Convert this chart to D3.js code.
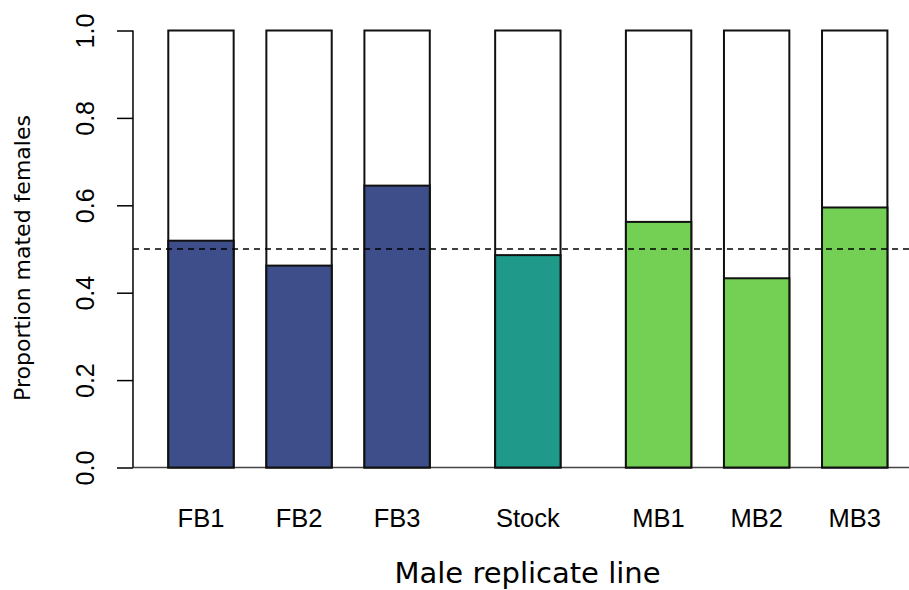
<!DOCTYPE html>
<html>
<head>
<meta charset="utf-8">
<script src="https://cdn.jsdelivr.net/npm/d3@7"></script>
<style>
  html, body { margin: 0; padding: 0; background: #fff; }
  svg { display: block; }
</style>
</head>
<body>
<svg id="chart" width="909" height="590"></svg>
<script>
// ---- data ----
const categories = ["FB1", "FB2", "FB3", "Stock", "MB1", "MB2", "MB3"];
const groups = ["FB", "FB", "FB", "Stock", "MB", "MB", "MB"];
const proportions = [0.519, 0.462, 0.645, 0.486, 0.562, 0.433, 0.595];
const yTicks = [0, 0.2, 0.4, 0.6, 0.8, 1.0];
const referenceLine = 0.5;
const groupColors = { FB: "#3D4E8A", Stock: "#1F9A8A", MB: "#73D055" };
const xTitle = "Male replicate line";
const yTitle = "Proportion mated females";

// ---- layout (bar units like R barplot: width 1, space 0.5, extra 1 between groups) ----
const starts = [];
let u = 0;
categories.forEach((c, i) => {
  const sp = (i > 0 && groups[i] !== groups[i - 1]) ? 1 : 0.5;
  u += sp;
  starts.push(u);
  u += 1;
});

const svg = d3.select("#chart");
const x = d3.scaleLinear().domain([0, 11.5]).range([135.6, 887.4]);
const y = d3.scaleLinear().domain([0, 1]).range([467.5, 30.5]);
const axisX = x(-0.04);

// baseline (h = 0)
svg.append("line")
  .attr("x1", axisX).attr("x2", 909)
  .attr("y1", y(0)).attr("y2", y(0))
  .attr("stroke", "#444").attr("stroke-width", 1.5);

// white background bars (full height)
svg.selectAll("rect.bg").data(categories).enter().append("rect")
  .attr("class", "bg")
  .attr("x", (d, i) => x(starts[i]))
  .attr("width", (d, i) => x(starts[i] + 1) - x(starts[i]))
  .attr("y", y(1))
  .attr("height", y(0) - y(1))
  .attr("fill", "#fff").attr("stroke", "#111").attr("stroke-width", 2);

// coloured proportion bars
svg.selectAll("rect.val").data(proportions).enter().append("rect")
  .attr("class", "val")
  .attr("x", (d, i) => x(starts[i]))
  .attr("width", (d, i) => x(starts[i] + 1) - x(starts[i]))
  .attr("y", d => y(d))
  .attr("height", d => y(0) - y(d))
  .attr("fill", (d, i) => groupColors[groups[i]])
  .attr("stroke", "#111").attr("stroke-width", 2);

// dashed reference line
svg.append("line")
  .attr("x1", axisX).attr("x2", 909)
  .attr("y1", y(referenceLine)).attr("y2", y(referenceLine))
  .attr("stroke", "#000").attr("stroke-width", 1.5)
  .attr("stroke-dasharray", "6,5");

// y axis
const yAxis = d3.axisLeft(y).tickValues(yTicks).tickSize(16).tickFormat(d3.format(".1f"));
const gy = svg.append("g").attr("transform", `translate(${axisX},0)`).call(yAxis);
gy.select(".domain").attr("d", `M-0,${y(0)}V${y(1)}`).attr("stroke", "#000").attr("stroke-width", 1.5);
gy.selectAll(".tick line").attr("stroke", "#000").attr("stroke-width", 1.5);
gy.selectAll(".tick text")
  .attr("x", null).attr("dy", null)
  .attr("transform", `translate(${94 - axisX},0) rotate(-90)`)
  .attr("text-anchor", "middle")
  .attr("font-family", "'Liberation Sans', Arial, sans-serif")
  .attr("font-size", 25).attr("fill", "#000");

// category labels
svg.selectAll("text.cat").data(categories).enter().append("text")
  .attr("class", "cat")
  .attr("x", (d, i) => x(starts[i] + 0.5))
  .attr("y", 527)
  .attr("text-anchor", "middle")
  .attr("font-family", "'Liberation Sans', Arial, sans-serif")
  .attr("font-size", 25.5).attr("fill", "#000")
  .text(d => d);

// axis titles
svg.append("text")
  .attr("x", 527.5).attr("y", 583)
  .attr("text-anchor", "middle")
  .attr("font-family", "'DejaVu Sans', Verdana, sans-serif")
  .attr("font-size", 29).attr("fill", "#000")
  .text(xTitle);

svg.append("text")
  .attr("transform", "translate(30,258) rotate(-90)")
  .attr("text-anchor", "middle")
  .attr("font-family", "'DejaVu Sans', Verdana, sans-serif")
  .attr("font-size", 22).attr("fill", "#000")
  .text(yTitle);
</script>
</body>
</html>
